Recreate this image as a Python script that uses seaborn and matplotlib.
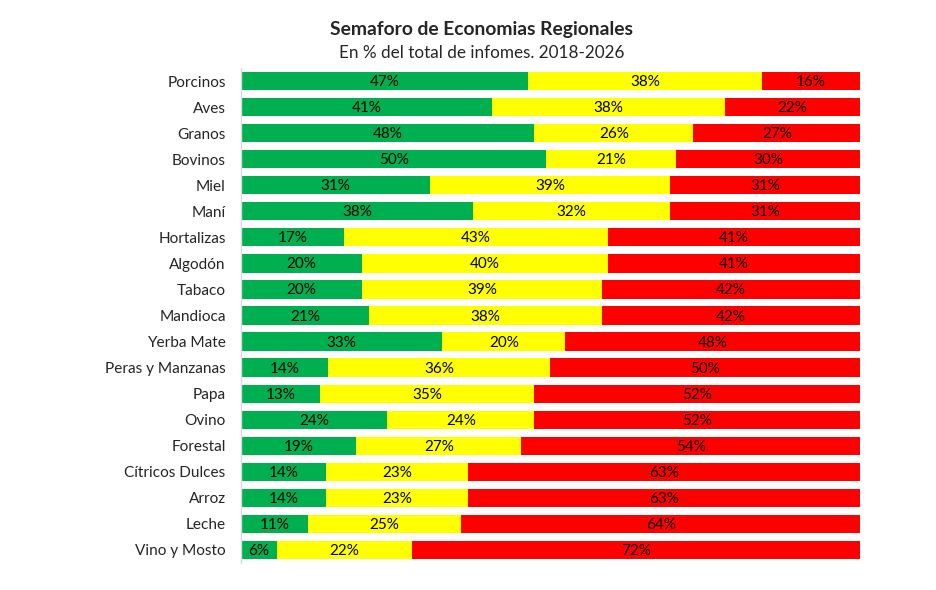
import matplotlib
matplotlib.use("Agg")
import matplotlib.pyplot as plt
import seaborn as sns
import numpy as np
import pandas as pd

categories = ["Porcinos", "Aves", "Granos", "Bovinos", "Miel", "Maní", "Hortalizas",
              "Algodón", "Tabaco", "Mandioca", "Yerba Mate", "Peras y Manzanas", "Papa",
              "Ovino", "Forestal", "Cítricos Dulces", "Arroz", "Leche", "Vino y Mosto"]
verde = [46.4, 40.5, 47.4, 49.4, 30.6, 37.5, 16.7, 19.6, 19.6, 20.7, 32.5, 14.1, 12.8,
         23.6, 18.6, 13.8, 13.8, 10.8, 5.8]
amarillo = [37.7, 37.7, 25.7, 20.9, 38.7, 31.7, 42.6, 39.7, 38.7, 37.5, 19.9, 35.8, 34.6,
            23.8, 26.7, 22.8, 22.8, 24.8, 21.8]
rojo = [15.9, 21.8, 26.9, 29.8, 30.7, 30.7, 40.8, 40.8, 41.7, 41.7, 47.6, 50.2, 52.6,
        52.6, 54.7, 63.4, 63.4, 64.4, 72.4]
etq_verde = [47, 41, 48, 50, 31, 38, 17, 20, 20, 21, 33, 14, 13, 24, 19, 14, 14, 11, 6]
etq_amarillo = [38, 38, 26, 21, 39, 32, 43, 40, 39, 38, 20, 36, 35, 24, 27, 23, 23, 25, 22]
etq_rojo = [16, 22, 27, 30, 31, 31, 41, 41, 42, 42, 48, 50, 52, 52, 54, 63, 63, 64, 72]

sns.set_theme(style="white")
plt.rcParams['font.family'] = ['Lato', 'DejaVu Sans']

df = pd.DataFrame({"cat": categories, "v": verde, "a": amarillo, "r": rojo})
tot = df["v"] + df["a"] + df["r"]
df["v"] = df["v"] / tot * 100
df["a"] = df["a"] / tot * 100
df["r"] = df["r"] / tot * 100
df["c2"] = df["v"] + df["a"]
df["c3"] = df["c2"] + df["r"]

fig = plt.figure(figsize=(9.37, 5.9), dpi=100)
ax = fig.add_axes([241/937, 1 - 563/590, (860-241)/937, (563-68)/590])

w = 0.7
kw = dict(saturation=1, width=w, ax=ax, orient="h", linewidth=0, edgecolor="none")
sns.barplot(data=df, y="cat", x="c3", color="#FF0000", **kw)
sns.barplot(data=df, y="cat", x="c2", color="#FFFF00", **kw)
sns.barplot(data=df, y="cat", x="v", color="#00B050", **kw)

fs = 11
for i in range(len(categories)):
    v, c2, c3 = df["v"][i], df["c2"][i], df["c3"][i]
    yy = i + 0.04
    ax.text(v / 2, yy, f"{etq_verde[i]}%", ha="center", va="center", fontsize=fs, color="black")
    ax.text((v + c2) / 2, yy, f"{etq_amarillo[i]}%", ha="center", va="center", fontsize=fs, color="black")
    ax.text((c2 + c3) / 2, yy, f"{etq_rojo[i]}%", ha="center", va="center", fontsize=fs, color="black")

ax.set_xlim(0, 100)
ax.set_ylim(len(categories) - 0.5, -0.5)
ax.set_xlabel("")
ax.set_ylabel("")
ax.set_xticks([])
ax.tick_params(axis="y", length=0, pad=11, labelsize=11.1)
for s in ["top", "right", "bottom"]:
    ax.spines[s].set_visible(False)
ax.spines["left"].set_color("#D9D9D9")
ax.spines["left"].set_linewidth(1)

fig.text(482/937, 1 - 30/590, "Semaforo de Economias Regionales", ha="center", va="center",
         fontsize=13.9, fontweight="bold")
fig.text(482/937, 1 - 53/590, "En % del total de infomes. 2018-2026", ha="center", va="center",
         fontsize=12.3)

fig.savefig("out.png", dpi=100)
